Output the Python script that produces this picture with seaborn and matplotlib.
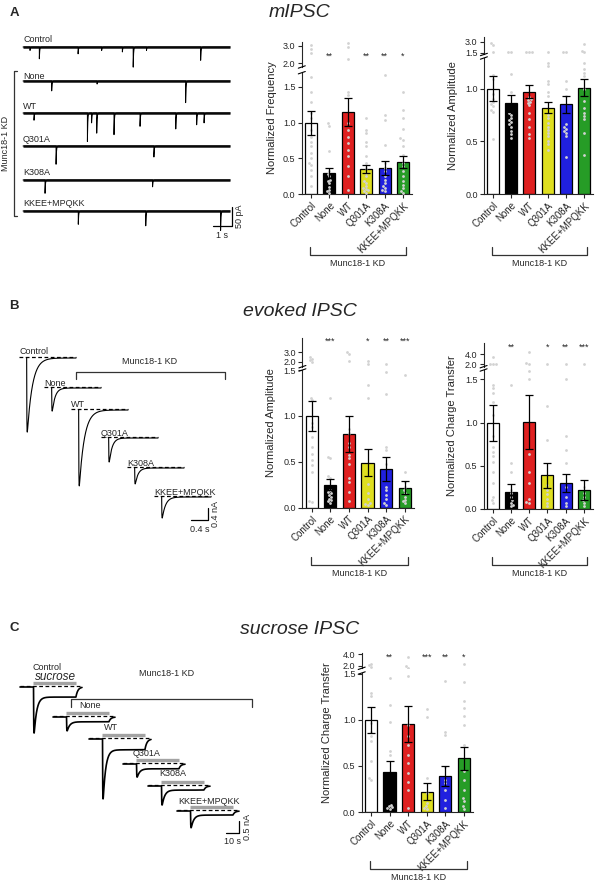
import numpy as np
import pandas as pd
import matplotlib.pyplot as plt
import seaborn as sns

sns.set_theme(style="ticks", context="paper")
plt.rcParams["font.family"] = ["Liberation Sans", "DejaVu Sans"]

W, H = 600, 886

groups = ["Control", "None", "WT", "Q301A", "K308A", "KKEE+MPQKK"]
bar_colors = ["#ffffff", "#000000", "#ff0000", "#ffff00", "#0000ff", "#12b012"]
pt_color = "#d2d2d2"

# ---- A: mIPSC frequency
freq_mean = [1.00, 0.29, 1.15, 0.35, 0.36, 0.45]
freq_sem = [0.17, 0.07, 0.20, 0.06, 0.10, 0.085]
freq_pts = [
    [3.04, 2.79, 2.6, 1.64, 1.43, 1.29, 1.14, 1.06, 0.9, 0.8, 0.73, 0.67, 0.57, 0.5, 0.44, 0.41, 0.34, 0.25, 0.11],
    [0.99, 0.96, 0.6, 0.32, 0.28, 0.25, 0.2, 0.18, 0.15, 0.1, 0.06, 0.04, 0.02],
    [3.13, 2.94, 2.25, 1.43, 1.39, 0.99, 0.9, 0.8, 0.71, 0.62, 0.53, 0.39, 0.25, 0.06],
    [1.07, 0.9, 0.85, 0.73, 0.67, 0.53, 0.43, 0.36, 0.29, 0.25, 0.18, 0.15, 0.11, 0.08, 0.07, 0.05, 0.04, 0.02],
    [1.67, 1.11, 1.04, 0.69, 0.43, 0.36, 0.32, 0.25, 0.2, 0.15, 0.11, 0.08, 0.06, 0.04],
    [1.43, 1.18, 1.06, 0.91, 0.78, 0.76, 0.67, 0.55, 0.43, 0.39, 0.32, 0.25, 0.18, 0.13, 0.08, 0.04, 0.01],
]
freq_stars = ["", "**", "", "**", "**", "*"]

# ---- A: mIPSC amplitude
amp_mean = [1.00, 0.86, 0.97, 0.82, 0.85, 1.01]
amp_sem = [0.12, 0.08, 0.06, 0.05, 0.08, 0.085]
amp_pts = [
    [2.8, 2.5, 1.6, 1.13, 1.09, 0.95, 0.9, 0.87, 0.85, 0.83, 0.8, 0.78, 0.52],
    [1.62, 1.58, 1.14, 0.97, 0.77, 0.75, 0.72, 0.7, 0.68, 0.66, 0.64, 0.6, 0.57, 0.53],
    [1.62, 1.6, 1.58, 0.92, 0.9, 0.89, 0.87, 0.86, 0.84, 0.77, 0.71, 0.64, 0.57, 0.53],
    [1.55, 1.24, 1.21, 1.07, 1.04, 0.97, 0.93, 0.75, 0.72, 0.67, 0.64, 0.61, 0.58, 0.55, 0.5, 0.47, 0.42],
    [1.65, 1.55, 1.07, 1.0, 0.93, 0.66, 0.64, 0.62, 0.6, 0.58, 0.55, 0.35],
    [2.7, 1.8, 1.6, 1.24, 1.19, 1.15, 1.12, 1.0, 0.88, 0.82, 0.77, 0.74, 0.71, 0.58, 0.37],
]
amp_stars = ["", "", "", "", "", ""]

# ---- B: evoked IPSC amplitude
evk_amp_mean = [1.00, 0.25, 0.80, 0.49, 0.42, 0.22]
evk_amp_sem = [0.16, 0.06, 0.195, 0.145, 0.13, 0.075]
evk_amp_pts = [
    [2.5, 2.3, 2.2, 2.0, 1.2, 1.17, 0.92, 0.88, 0.77, 0.66, 0.59, 0.52, 0.46, 0.39, 0.07, 0.06],
    [1.2, 0.55, 0.54, 0.34, 0.32, 0.19, 0.17, 0.16, 0.14, 0.12, 0.1, 0.08, 0.07, 0.05],
    [3.0, 2.8, 2.1, 0.86, 0.81, 0.7, 0.66, 0.57, 0.54, 0.48, 0.32, 0.28, 0.17, 0.07],
    [2.1, 1.7, 1.34, 1.2, 0.26, 0.16, 0.1, 0.05, 0.04, 0.03],
    [1.7, 1.48, 1.24, 0.66, 0.63, 0.48, 0.23, 0.19, 0.14, 0.1, 0.05, 0.03],
    [1.45, 0.39, 0.28, 0.23, 0.19, 0.16, 0.12, 0.08, 0.07, 0.05],
]
evk_amp_stars = ["", "***", "", "*", "**", "***"]

# ---- B: evoked IPSC charge transfer
evk_ct_mean = [1.00, 0.20, 1.01, 0.39, 0.30, 0.22]
evk_ct_sem = [0.21, 0.085, 0.31, 0.145, 0.10, 0.12]
evk_ct_pts = [
    [3.5, 2.1, 2.0, 1.95, 1.44, 1.4, 1.34, 1.24, 1.09, 0.84, 0.72, 0.66, 0.61, 0.55, 0.43, 0.3, 0.14, 0.1, 0.07],
    [1.44, 0.53, 0.43, 0.22, 0.18, 0.14, 0.1, 0.07, 0.05, 0.03],
    [4.5, 2.3, 2.1, 1.6, 1.51, 0.64, 0.43, 0.3, 0.12, 0.08, 0.07],
    [2.1, 1.19, 0.8, 0.28, 0.22, 0.17, 0.12, 0.07, 0.03],
    [2.0, 1.51, 0.84, 0.68, 0.53, 0.26, 0.14, 0.07, 0.03],
    [2.0, 0.26, 0.18, 0.14, 0.1, 0.07, 0.03],
]
evk_ct_stars = ["", "**", "", "*", "**", "***"]

# ---- C: sucrose charge transfer
suc_mean = [1.00, 0.43, 0.95, 0.22, 0.39, 0.58]
suc_sem = [0.14, 0.125, 0.195, 0.09, 0.11, 0.125]
suc_pts = [
    [2.4, 2.1, 1.8, 1.29, 1.26, 0.96, 0.87, 0.82, 0.77, 0.55, 0.37, 0.35],
    [1.45, 1.16, 0.97, 0.66, 0.62, 0.08, 0.06, 0.05, 0.04, 0.03],
    [3.5, 2.0, 1.7, 1.47, 0.94, 0.82, 0.73, 0.62, 0.53, 0.42, 0.33, 0.24, 0.04],
    [1.12, 1.03, 0.37, 0.21, 0.1, 0.06, 0.04, 0.03],
    [1.42, 0.87, 0.83, 0.49, 0.35, 0.31, 0.24, 0.13, 0.04],
    [2.3, 1.41, 1.2, 1.13, 1.04, 0.94, 0.73, 0.44, 0.35, 0.24, 0.15, 0.12, 0.06, 0.03],
]
suc_stars = ["", "**", "", "***", "**", "*"]

# ---- example traces
mini_times = [
    [0.37, 0.86, 2.9, 4.14, 5.23, 5.8, 6.5, 9.35],
    [1.51, 3.9, 8.56],
    [0.58, 3.39, 3.61, 3.88, 4.79, 6.16, 8.04, 9.14, 9.53],
    [1.74, 6.89],
    [1.16, 6.82],
    [2.91, 6.46, 10.4],
]
mini_amps = [
    [9, 31, 18, 9, 13, 53, 9, 35],
    [26, 8, 57],
    [19, 75, 26, 53, 57, 35, 42, 31, 26],
    [48, 29],
    [35, 18],
    [35, 39, 51],
]
evk_peak = [2.47, 0.77, 2.53, 0.80, 0.53, 0.70]      # nA
evk_tau = [0.12, 0.07, 0.12, 0.07, 0.07, 0.08]       # s
suc_peak = [2.42, 0.71, 3.17, 0.67, 1.00, 0.875]     # nA
suc_steady = [0.42, 0.20, 0.45, 0.20, 0.17, 0.17]    # nA

fig = plt.figure(figsize=(6, 8.86), dpi=100)


def px_rect(x0, x1, ytop, ybot):
    return [x0 / W, 1 - ybot / H, (x1 - x0) / W, (ybot - ytop) / H]


ov = fig.add_axes([0, 0, 1, 1], zorder=10)
ov.set_xlim(0, W)
ov.set_ylim(H, 0)
ov.axis("off")
ov.patch.set_visible(False)

panels = [
    dict(mean=freq_mean, sem=freq_sem, pts=freq_pts, stars=freq_stars, ylabel="Normalized Frequency",
         x=(301.8, 412.2), low_px=(72.7, 194), low_lim=(0, 1.70), up_px=(42, 67), up_lim=(1.79, 3.21),
         low_ticks=[0, 0.5, 1.0, 1.5], up_ticks=[2.0, 3.0], star_y=56, ylabel_x=272, bracket_y=247),
    dict(mean=amp_mean, sem=amp_sem, pts=amp_pts, stars=amp_stars, ylabel="Normalized Amplitude",
         x=(483.9, 593.1), low_px=(58, 194), low_lim=(0, 1.29), up_px=(37, 54.5), up_lim=(1.255, 3.64),
         low_ticks=[0, 0.5, 1.0], up_ticks=[1.5, 3.0], star_y=56, ylabel_x=453, bracket_y=247),
    dict(mean=evk_amp_mean, sem=evk_amp_sem, pts=evk_amp_pts, stars=evk_amp_stars, ylabel="Normalized Amplitude",
         x=(302.4, 414), low_px=(370, 507.7), low_lim=(0, 1.497), up_px=(337.7, 366.7), up_lim=(1.46, 4.5),
         low_ticks=[0, 0.5, 1.0, 1.5], up_ticks=[2.0, 3.0], star_y=341, ylabel_x=271, bracket_y=557),
    dict(mean=evk_ct_mean, sem=evk_ct_sem, pts=evk_ct_pts, stars=evk_ct_stars, ylabel="Normalized Charge Transfer",
         x=(483.6, 593), low_px=(370, 509), low_lim=(0, 1.61), up_px=(343, 366.7), up_lim=(1.46, 6.2),
         low_ticks=[0, 0.5, 1.0, 1.5], up_ticks=[2.0, 4.0], star_y=347, ylabel_x=452, bracket_y=557),
    dict(mean=suc_mean, sem=suc_sem, pts=suc_pts, stars=suc_stars, ylabel="Normalized Charge Transfer",
         x=(361.7, 473), low_px=(673, 812), low_lim=(0, 1.506), up_px=(653.3, 668.3), up_lim=(1.6, 4.17),
         low_ticks=[0, 0.5, 1.0, 1.5], up_ticks=[2.0, 4.0], star_y=657, ylabel_x=327, bracket_y=861),
]


def draw_bars(p):
    x0, x1 = p["x"]
    lo = fig.add_axes(px_rect(x0, x1, *p["low_px"]))
    up = fig.add_axes(px_rect(x0, x1, *p["up_px"]))
    bars = pd.DataFrame({"group": groups, "value": p["mean"]})
    sns.barplot(data=bars, x="group", y="value", hue="group", order=groups, hue_order=groups,
                palette=bar_colors, width=0.65, edgecolor="black", linewidth=0.9,
                errorbar=None, legend=False, ax=lo)
    lo.errorbar(np.arange(6), p["mean"], yerr=p["sem"], fmt="none", ecolor="black",
                elinewidth=0.9, capsize=2.6, capthick=0.9, zorder=6)
    pts = pd.DataFrame([(g, v) for g, vals in zip(groups, p["pts"]) for v in vals],
                       columns=["group", "value"])
    top = p["low_lim"][1]
    sns.swarmplot(data=pts[pts.value <= top], x="group", y="value", order=groups,
                  color=pt_color, size=2.0, ax=lo, zorder=5)
    sns.swarmplot(data=pts[pts.value > top], x="group", y="value", order=groups,
                  color=pt_color, size=2.0, ax=up, zorder=5)

    for a in (lo, up):
        a.patch.set_visible(False)
        a.set_xlim(-0.5, 5.5)
        a.set_xlabel("")
        a.set_ylabel("")
        for s in a.spines.values():
            s.set_linewidth(0.8)
        a.spines[["top", "right"]].set_visible(False)
        a.tick_params(axis="y", length=3, width=0.8, pad=1.5, labelsize=6.5)
    lo.set_ylim(*p["low_lim"])
    lo.set_yticks(p["low_ticks"])
    lo.set_yticklabels([f"{v:.1f}" for v in p["low_ticks"]])
    lo.set_xticks(range(6))
    lo.set_xticklabels(groups, rotation=45, ha="right", rotation_mode="anchor")
    lo.tick_params(axis="x", length=3, width=0.8, pad=1.5, labelsize=7)
    up.set_ylim(*p["up_lim"])
    up.set_yticks(p["up_ticks"])
    up.set_yticklabels([f"{v:.1f}" for v in p["up_ticks"]])
    up.spines["bottom"].set_visible(False)
    up.tick_params(axis="x", bottom=False, labelbottom=False)

    # axis break marks
    for yb in (p["low_px"][0], p["up_px"][1]):
        ov.plot([x0 - 3.5, x0 + 3.5], [yb + 1.2, yb - 1.2], color="black", lw=0.8)

    step = (x1 - x0) / 6
    ov.text(p["ylabel_x"], (p["up_px"][0] + p["low_px"][1]) / 2, p["ylabel"], rotation=90,
            ha="center", va="center", fontsize=8)
    for i, s in enumerate(p["stars"]):
        if s:
            ov.text(x0 + (i + 0.5) * step, p["star_y"], s, ha="center", va="center", fontsize=6.5)
    xa, xb = x0 + 0.5 * step - 1, x0 + 5.5 * step + 3
    by = p["bracket_y"]
    ov.plot([xa, xa, xb, xb], [by, by + 8, by + 8, by], color="#333333", lw=0.9)
    ov.text((xa + xb) / 2, by + 16, "Munc18-1 KD", ha="center", va="center", fontsize=6.5)


for p in panels:
    draw_bars(p)

# ---- titles and panel letters
for letter, ly, title, ty in [("A", 13, "mIPSC", 12), ("B", 306, "evoked IPSC", 311),
                              ("C", 628, "sucrose IPSC", 630)]:
    ov.text(14, ly, letter, fontsize=9.5, fontweight="bold", ha="center", va="center")
    ov.text(300, ty, title, fontsize=14, style="italic", ha="center", va="center")

# ---- A: mIPSC traces
mini_px_s = 19.0
mini_px_pA = 19.0 / 50
mini_x0 = 23
mini_base = [47, 81, 113, 146, 180, 211]
mini_label_y = [39, 76, 106, 139, 172, 203]
t = np.arange(0, 10.9, 0.001)
for name, times, amps, base, ly in zip(groups, mini_times, mini_amps, mini_base, mini_label_y):
    cur = np.zeros_like(t)
    for t0, a in zip(times, amps):
        dt = t - t0
        cur -= np.where(dt >= 0, a * np.exp(-np.clip(dt, 0, None) / 0.02), 0)
    ov.plot([mini_x0, mini_x0 + t[-1] * mini_px_s], [base, base], color="#111111", lw=1.8,
            solid_capstyle="butt")
    ov.plot(mini_x0 + t * mini_px_s, base - cur * mini_px_pA, color="black", lw=0.7)
    ov.text(mini_x0, ly, name, fontsize=6.5, ha="left", va="center")
ov.plot([17, 14, 14, 17], [71, 71, 216, 216], color="#333333", lw=0.9)
ov.text(6, 143, "Munc18-1 KD", rotation=90, fontsize=6.5, ha="center", va="center")
sx, sy = 232, 226
ov.plot([sx - 1 * mini_px_s, sx, sx], [sy, sy, sy - 50 * mini_px_pA], color="black", lw=0.9)
ov.text(sx - 0.5 * mini_px_s, sy + 9, "1 s", fontsize=6.5, ha="center", va="center")
ov.text(sx + 8, sy - 25 * mini_px_pA, "50 pA", rotation=90, fontsize=6.5, ha="center", va="center")

# ---- B: evoked traces
evk_px_s = 17 / 0.4
evk_px_nA = 12 / 0.4
evk_start = [(19, 358), (44, 388), (71, 410), (101, 438), (127, 468), (154, 497)]
evk_label = [(19, 351), (44, 383), (71, 404), (101, 433), (127, 463), (154, 492)]
te = np.arange(0, 1.34, 0.0005)
for name, amp, tau, (x0, base), (lx, ly) in zip(groups, evk_peak, evk_tau, evk_start, evk_label):
    dt = te - 0.18
    shape = np.where(dt >= 0, np.exp(-np.clip(dt, 0, None) / tau) - np.exp(-np.clip(dt, 0, None) / 0.004), 0)
    cur = -amp * shape / shape.max()
    m = dt >= 0
    ov.plot(x0 + te[m] * evk_px_s, base - cur[m] * evk_px_nA, color="black", lw=0.8)
    ov.plot([x0, x0 + te[-1] * evk_px_s], [base - 1.2, base - 1.2], color="black", lw=0.9,
            dashes=(3, 2))
    ov.text(lx, ly, name, fontsize=6.5, ha="left", va="center")
ov.plot([76, 76, 225, 225], [379, 372, 372, 379], color="#333333", lw=0.9)
ov.text(150, 361, "Munc18-1 KD", fontsize=6.5, ha="center", va="center")
sx, sy = 208, 520
ov.plot([sx - 0.4 * evk_px_s, sx, sx], [sy, sy, sy - 0.4 * evk_px_nA], color="black", lw=0.9)
ov.text(sx - 0.2 * evk_px_s, sy + 9, "0.4 s", fontsize=6.5, ha="center", va="center")
ov.text(sx + 8, sy - 0.2 * evk_px_nA, "0.4 nA", rotation=90, fontsize=6.5, ha="center", va="center")

# ---- C: sucrose traces
suc_px_s = 13 / 10
suc_px_nA = 12 / 0.5
suc_on, suc_off = 10.0, 43.0
suc_start = [(20, 687), (53, 717), (89, 739), (123, 764), (148, 786), (177, 811)]
suc_label = [(47, 667, "center"), (79, 706, "left"), (104, 728, "left"), (133, 754, "left"),
             (159, 774, "left"), (178, 801, "left")]
ts = np.arange(0, 47.7, 0.02)
for name, pk, ss, (x0, base), (lx, ly, ha) in zip(groups, suc_peak, suc_steady, suc_start, suc_label):
    dt = ts - (suc_on + 0.4)
    dtc = np.clip(dt, 0, None)
    cur = -(ss + (pk - ss) * np.exp(-dtc / 2.0)) * (1 - np.exp(-dtc / 0.15))
    cur = np.where(dt >= 0, cur, 0)
    i_off = np.searchsorted(ts, suc_off)
    cur[i_off:] = cur[i_off] * np.exp(-(ts[i_off:] - suc_off) / 1.5)
    ov.plot([x0, x0 + ts[-1] * suc_px_s], [base - 1.2, base - 1.2], color="black", lw=0.9,
            dashes=(3, 2))
    ov.plot(x0 + ts * suc_px_s, base - cur * suc_px_nA, color="black", lw=1.2)
    ov.plot([x0 + suc_on * suc_px_s, x0 + suc_off * suc_px_s], [base - 4.5, base - 4.5],
            color="#a3a3a3", lw=2.4, solid_capstyle="butt")
    ov.text(lx, ly, name, fontsize=6.5, ha=ha, va="center")
ov.text(55, 677, "sucrose", fontsize=8.5, style="italic", ha="center", va="center")
ov.text(167, 674, "Munc18-1 KD", fontsize=6.5, ha="center", va="center")
ov.plot([71, 71, 252, 252], [707, 699, 699, 707], color="#333333", lw=0.9)
sx, sy = 239, 833
ov.plot([sx - 10 * suc_px_s, sx, sx], [sy, sy, sy - 0.5 * suc_px_nA], color="black", lw=0.9)
ov.text(sx - 5 * suc_px_s, sy + 9, "10 s", fontsize=6.5, ha="center", va="center")
ov.text(sx + 8, sy - 0.25 * suc_px_nA, "0.5 nA", rotation=90, fontsize=6.5, ha="center", va="center")

fig.savefig("out.png", dpi=100, facecolor="white")
